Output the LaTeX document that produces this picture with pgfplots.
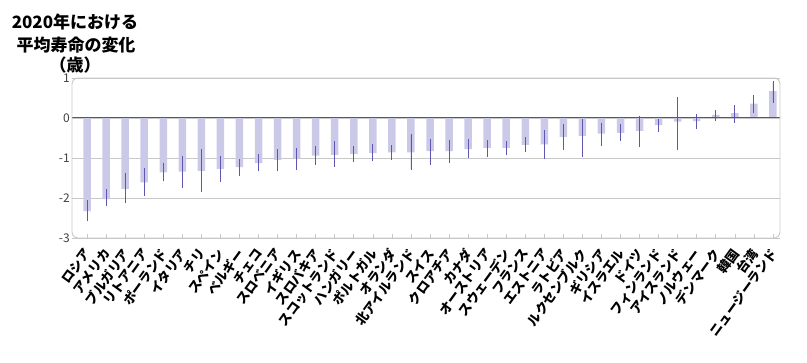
\documentclass[border=0pt]{standalone}
\usepackage{fontspec}
\usepackage{pgfplots}
\usepackage{pgfplotstable}
\pgfplotsset{compat=1.18}
\newfontfamily\cjk{Noto Sans CJK JP}
\definecolor{barfill}{HTML}{CBC9E8}
\definecolor{errcol}{HTML}{5E56B0}
\definecolor{gridcol}{HTML}{C8C8C8}
\definecolor{zerocol}{HTML}{5A5A5A}
\definecolor{ticklab}{HTML}{404040}

\pgfplotstableread{
i v lo hi
0 -2.33 -2.56 -2.08
1 -2.03 -2.17 -1.81
2 -1.77 -2.10 -1.39
3 -1.61 -1.93 -1.28
4 -1.36 -1.56 -1.15
5 -1.34 -1.73 -0.98
6 -1.32 -1.82 -0.81
7 -1.27 -1.57 -0.98
8 -1.23 -1.43 -1.06
9 -1.13 -1.31 -0.93
10 -1.05 -1.31 -0.81
11 -1.00 -1.27 -0.78
12 -0.94 -1.14 -0.73
13 -0.92 -1.19 -0.61
14 -0.90 -1.08 -0.73
15 -0.88 -1.06 -0.68
16 -0.86 -1.03 -0.71
17 -0.86 -1.28 -0.43
18 -0.83 -1.14 -0.54
19 -0.83 -1.11 -0.57
20 -0.78 -0.98 -0.56
21 -0.75 -0.94 -0.57
22 -0.75 -0.89 -0.61
23 -0.67 -0.83 -0.50
24 -0.66 -1.00 -0.32
25 -0.47 -0.77 -0.17
26 -0.45 -0.94 -0.04
27 -0.39 -0.67 -0.15
28 -0.375 -0.54 -0.17
29 -0.32 -0.69 0.03
30 -0.18 -0.33 -0.06
31 -0.09 -0.77 0.50
32 -0.08 -0.24 0.08
33 0.08 -0.04 0.18
34 0.12 -0.10 0.31
35 0.36 0.14 0.55
36 0.67 0.40 0.89
}\data

\begin{document}
\begin{tikzpicture}
\useasboundingbox (0pt,0pt) rectangle (807pt,363pt);
\node[font=\cjk\bfseries\fontsize{17}{17}\selectfont, inner sep=0pt] at (75pt,341pt) {2020年における};
\node[font=\cjk\bfseries\fontsize{17}{17}\selectfont, inner sep=0pt] at (76pt,318pt) {平均寿命の変化};
\node[font=\cjk\bfseries\fontsize{17}{17}\selectfont, inner sep=0pt] at (75pt,298pt) {（歳）};
\begin{axis}[
  at={(72pt,125pt)}, anchor=south west,
  scale only axis, width=708pt, height=160pt,
  ybar, bar width=7.5pt,
  xmin=-0.79, xmax=36.37,
  ymin=-3, ymax=1,
  ytick={-3,-2,-1,0,1},
  xtick={0,...,36},
  xticklabels={ロシア,アメリカ,ブルガリア,リトアニア,ポーランド,イタリア,チリ,スペイン,ベルギー,チェコ,スロベニア,イギリス,スロバキア,スコットランド,ハンガリー,ポルトガル,オランダ,北アイルランド,スイス,クロアチア,カナダ,オーストリア,スウェーデン,フランス,エストニア,ラトビア,ルクセンブルク,ギリシア,イスラエル,ドイツ,フィンランド,アイスランド,ノルウェー,デンマーク,韓国,台湾,ニュージーランド},
  xticklabel style={font=\cjk\bfseries\fontsize{13}{13}\selectfont, xshift=-4pt, yshift=-9pt, rotate=54, anchor=north east, inner sep=0pt, text=black},
  yticklabel style={font=\cjk\fontsize{12}{12}\selectfont, text=ticklab, inner sep=2pt},
  /pgf/number format/assume math mode=true,
  axis line style={draw=none},
  ymajorgrids, grid style={gridcol, line width=0.8pt},
  xtick pos=bottom, ytick style={draw=none},
  xtick style={draw=gridcol, line width=0.6pt},
  tick align=inside, major tick length=4pt,
  clip=false,
]
\addplot[fill=barfill, draw=none,
  error bars/.cd, y dir=both, y explicit,
  error bar style={errcol, line width=0.9pt},
  error mark=-, error mark options={errcol, mark size=1pt, line width=0.9pt}]
  table[x=i, y=v, y error plus expr=\thisrow{hi}-\thisrow{v}, y error minus expr=\thisrow{v}-\thisrow{lo}] {\data};
\draw[zerocol, line width=1pt] (axis cs:-0.79,0) -- (axis cs:36.37,0);
\draw[gridcol, line width=0.9pt, rounded corners=6pt] (rel axis cs:0,0) rectangle (rel axis cs:1,1);
\end{axis}
\end{tikzpicture}
\end{document}
